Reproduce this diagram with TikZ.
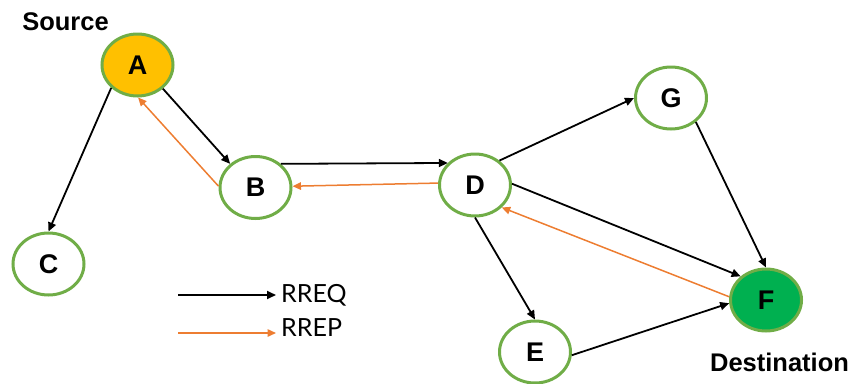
\documentclass[tikz,border=0pt]{standalone}
\usepackage{fontspec}
\setmainfont{Liberation Sans}
\newfontfamily\legendfont{Lato}
\usetikzlibrary{arrows.meta,shapes.geometric}
\definecolor{nodegreen}{HTML}{70AD47}
\definecolor{srcfill}{HTML}{FFC000}
\definecolor{dstfill}{HTML}{00B050}
\definecolor{rrep}{HTML}{ED7D31}
\tikzset{
  hostnode/.style={ellipse, draw=nodegreen, line width=3pt, fill=white,
    minimum width=71pt, minimum height=62pt, inner sep=0pt,
    font=\fontsize{27}{27}\selectfont\bfseries},
  req/.style={black, line width=1.8pt, -{Triangle[length=9pt,width=8pt]}},
  rep/.style={rrep, line width=1.5pt, -{Triangle[length=8.5pt,width=7.5pt]}},
  tag/.style={font=\fontsize{25.5}{25.5}\selectfont\bfseries},
  legendtext/.style={font=\fontsize{25}{25}\selectfont\legendfont, anchor=west, inner sep=0pt}
}
\begin{document}
\begin{tikzpicture}[x=1pt,y=-1pt]
\path[use as bounding box] (0,0) rectangle (853,383);

% hosts
\node[hostnode, fill=srcfill] (A) at (137.5,65) {A};
\node[hostnode] (B) at (255.5,187.5) {B};
\node[hostnode] (C) at (48.5,264) {C};
\node[hostnode] (D) at (475,185) {D};
\node[hostnode] (G) at (671,98) {G};
\node[hostnode, fill=dstfill] (F) at (766,300) {F};
\node[hostnode] (E) at (535,352) {E};

% role labels
\node[tag] (src) at (65.5,22) {Source};
\node[tag] (dst) at (779.5,362) {Destination};

% route requests
\draw[req] (A.221) -- (C.90);
\draw[req] (A.-43) -- (B.137);
\draw[req] (B.43) -- (D.141);
\draw[req] (D.45) -- (G.180);
\draw[req] (D.2) -- (F.137);
\draw[req] (D.-90) -- (E.90);
\draw[req] (G.-44) -- (F.90);
\draw[req] (E.-5) -- (F.185);

% route replies
\draw[rep] (F.175) -- (D.-40);
\draw[rep] (D.177) -- (B.2.5);
\draw[rep] (B.178) -- (A.-89);

% legend
\coordinate (lq1) at (178,295);
\coordinate (lq2) at (276,295);
\coordinate (lp1) at (178,333);
\coordinate (lp2) at (276,333);
\draw[req] (lq1) -- (lq2);
\draw[rep] (lp1) -- (lp2);
\node[legendtext] (lreq) at (281,295) {RREQ};
\node[legendtext] (lrep) at (281,328) {RREP};
\end{tikzpicture}
\end{document}
